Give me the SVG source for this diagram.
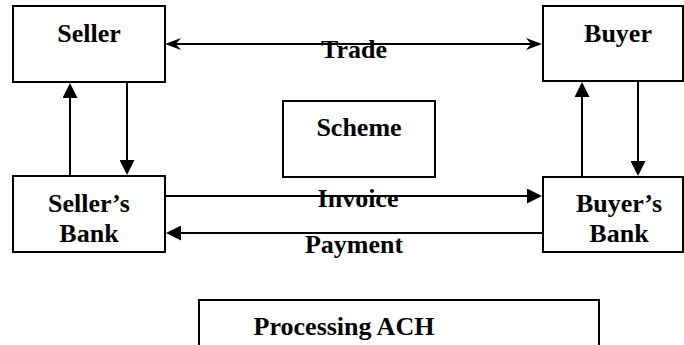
<svg xmlns="http://www.w3.org/2000/svg" width="684" height="345" viewBox="0 0 684 345">
  <style>
    .box { fill: #ffffff; stroke: #000000; stroke-width: 2; }
    .lbl { font-family: "Liberation Serif", "Times New Roman", serif; font-weight: bold; font-size: 26px; fill: #000000; text-anchor: middle; }
    .wire { stroke: #000000; stroke-width: 2; fill: none; }
  </style>
  <defs>
    <!-- solid triangular head -->
    <marker id="head" markerUnits="userSpaceOnUse" markerWidth="15" markerHeight="15" refX="10" refY="7.5" orient="auto">
      <path d="M0,0 L15,7.5 L0,15 Z" fill="#000000"/>
    </marker>
    <!-- barbed head used on the trade link -->
    <marker id="barb" markerUnits="userSpaceOnUse" markerWidth="16" markerHeight="12" refX="11" refY="6" orient="auto-start-reverse">
      <path d="M0,0 L16,6 L0,12 L5,6 Z" fill="#000000"/>
    </marker>
  </defs>

  <g id="connectors">
    <line class="wire" x1="170" y1="44" x2="537" y2="44" marker-start="url(#barb)" marker-end="url(#barb)"/>
    <line class="wire" x1="165" y1="196" x2="537" y2="196" marker-end="url(#head)"/>
    <line class="wire" x1="543" y1="233" x2="171" y2="233" marker-end="url(#head)"/>
    <line class="wire" x1="70" y1="176" x2="70" y2="88" marker-end="url(#head)"/>
    <line class="wire" x1="127" y1="82" x2="127" y2="170" marker-end="url(#head)"/>
    <line class="wire" x1="582" y1="177" x2="582" y2="87" marker-end="url(#head)"/>
    <line class="wire" x1="638" y1="81" x2="638" y2="171" marker-end="url(#head)"/>
    <text class="lbl" x="354" y="58">Trade</text>
    <text class="lbl" x="358" y="207">Invoice</text>
    <text class="lbl" x="354" y="253">Payment</text>
  </g>

  <g id="seller">
    <rect class="box" x="13" y="6" width="152" height="76"/>
    <text class="lbl" x="89" y="42">Seller</text>
  </g>

  <g id="buyer">
    <rect class="box" x="543" y="6" width="140" height="75"/>
    <text class="lbl" x="618" y="42">Buyer</text>
  </g>

  <g id="scheme">
    <rect class="box" x="283" y="101" width="152" height="76"/>
    <text class="lbl" x="359" y="136">Scheme</text>
  </g>

  <g id="sellers-bank">
    <rect class="box" x="13" y="176" width="152" height="76"/>
    <text class="lbl" x="89" y="212">Seller’s</text>
    <text class="lbl" x="89" y="242">Bank</text>
  </g>

  <g id="buyers-bank">
    <rect class="box" x="543" y="177" width="140" height="75"/>
    <text class="lbl" x="619" y="212">Buyer’s</text>
    <text class="lbl" x="619" y="242">Bank</text>
  </g>

  <g id="processing-ach">
    <rect class="box" x="199" y="300" width="400" height="60"/>
    <text class="lbl" x="344" y="335">Processing ACH</text>
  </g>
</svg>
